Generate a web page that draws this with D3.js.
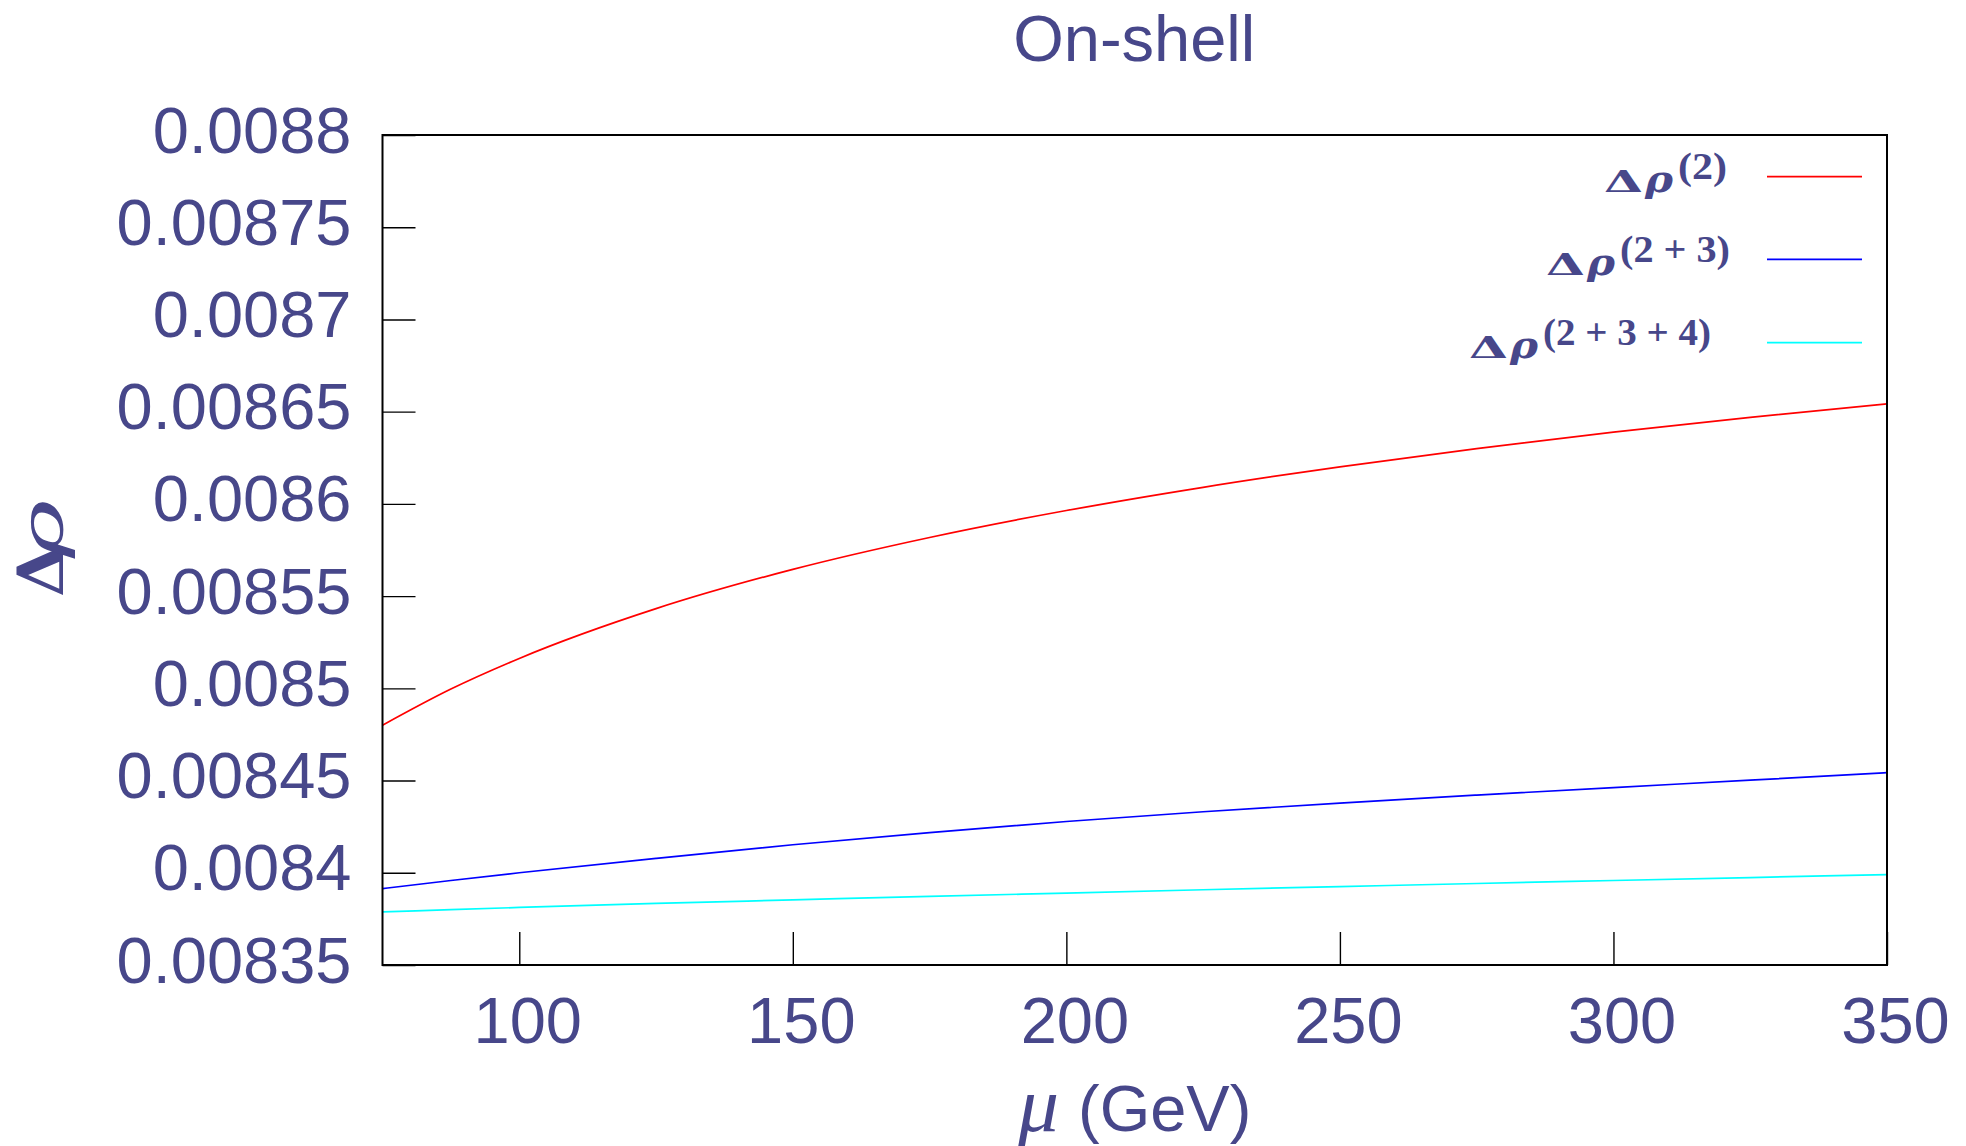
<!DOCTYPE html>
<html>
<head>
<meta charset="utf-8">
<script src="https://cdn.jsdelivr.net/npm/d3@7"></script>
<style>
  html, body { margin: 0; padding: 0; background: #ffffff; }
  svg { display: block; }
</style>
</head>
<body>
<svg id="chart" width="1966" height="1146"></svg>
<script>
// ---------------- data ----------------
const title = "On-shell";
const mu = [75, 87.5, 100, 125, 150, 175, 200, 225, 250, 275, 300, 325, 350];
const rho2 = [0.0084800, 0.0084996, 0.0085162, 0.0085432, 0.0085645, 0.0085818, 0.0085964,
              0.0086090, 0.0086201, 0.0086300, 0.0086389, 0.0086469, 0.0086542];
const rho23 = [0.0083914, 0.0083958, 0.0084000, 0.0084078, 0.0084152, 0.0084218, 0.0084278,
               0.0084331, 0.0084378, 0.0084421, 0.0084462, 0.0084502, 0.0084543];
const rho234 = [0.0083788, 0.0083800, 0.0083812, 0.0083834, 0.0083853, 0.0083872, 0.0083890,
                0.0083908, 0.0083925, 0.0083942, 0.0083958, 0.0083974, 0.0083990];
const seriesNames = ["(2)", "(2\u2005+\u20053)", "(2\u2005+\u20053\u2005+\u20054)"];
const seriesColors = ["#ff0000", "#0000ff", "#00ffff"];
const xTicks = [100, 150, 200, 250, 300, 350];
const yTicks = [0.00835, 0.0084, 0.00845, 0.0085, 0.00855, 0.0086, 0.00865, 0.0087, 0.00875, 0.0088];
const yTickLabels = ["0.00835", "0.0084", "0.00845", "0.0085", "0.00855", "0.0086", "0.00865", "0.0087", "0.00875", "0.0088"];
const xDomain = [75, 350];
const yDomain = [0.00835, 0.0088];

// ---------------- layout ----------------
const TXT = "#47478a";
const SANS = "'Liberation Sans', Arial, Helvetica, sans-serif";
const SERIF = "'DejaVu Serif', 'Liberation Serif', serif";
const LSERIF = "'Liberation Serif', 'DejaVu Serif', serif";
const M = { left: 382.5, right: 1887, top: 135, bottom: 965 };

const svg = d3.select("#chart");
svg.append("rect").attr("width", 1966).attr("height", 1146).attr("fill", "#fff");

const x = d3.scaleLinear().domain(xDomain).range([M.left, M.right]);
const y = d3.scaleLinear().domain(yDomain).range([M.bottom, M.top]);

// clip
svg.append("defs").append("clipPath").attr("id", "plotclip")
  .append("rect").attr("x", M.left).attr("y", M.top)
  .attr("width", M.right - M.left).attr("height", M.bottom - M.top);

// axes
const yAxis = d3.axisLeft(y).tickValues(yTicks)
  .tickFormat((d, i) => yTickLabels[i]).tickSize(-33).tickPadding(31);
const gy = svg.append("g").attr("transform", `translate(${M.left},0)`).call(yAxis);
gy.select(".domain").remove();
gy.selectAll(".tick line").attr("stroke", "#000").attr("stroke-width", 1.4);
gy.selectAll(".tick text").attr("fill", TXT).attr("font-family", SANS)
  .attr("font-size", 65).attr("dy", 17);

const xAxis = d3.axisBottom(x).tickValues(xTicks).tickFormat(d3.format("d"))
  .tickSize(-33).tickPadding(10);
const gx = svg.append("g").attr("transform", `translate(0,${M.bottom})`).call(xAxis);
gx.select(".domain").remove();
gx.selectAll(".tick line").attr("stroke", "#000").attr("stroke-width", 1.4);
gx.selectAll(".tick text").attr("fill", TXT).attr("font-family", SANS)
  .attr("font-size", 65).attr("y", 78).attr("dy", 0).attr("dx", 8);

// series
const series = [rho2, rho23, rho234];
const line = d3.line().x(d => x(d[0])).y(d => y(d[1])).curve(d3.curveMonotoneX);
const gl = svg.append("g").attr("clip-path", "url(#plotclip)");
series.forEach((vals, i) => {
  gl.append("path")
    .datum(mu.map((m, j) => [m, vals[j]]))
    .attr("fill", "none")
    .attr("stroke", seriesColors[i])
    .attr("stroke-width", 1.7)
    .attr("d", line);
});

// frame
svg.append("rect").attr("x", M.left).attr("y", M.top)
  .attr("width", M.right - M.left).attr("height", M.bottom - M.top)
  .attr("fill", "none").attr("stroke", "#000").attr("stroke-width", 2);

// title
svg.append("text").attr("x", (M.left + M.right) / 2 - 0.5).attr("y", 61)
  .attr("text-anchor", "middle").attr("font-family", SANS).attr("font-size", 65)
  .attr("fill", TXT).text(title);

// x label: mu (GeV)
svg.append("text").attr("x", 1018).attr("y", 1131)
  .attr("font-family", LSERIF).attr("font-style", "italic").attr("font-size", 78)
  .attr("textLength", 41).attr("lengthAdjust", "spacingAndGlyphs")
  .attr("fill", TXT).text("\u03bc");
svg.append("text").attr("x", 1078).attr("y", 1131)
  .attr("font-family", SANS).attr("font-size", 65)
  .attr("fill", TXT).text("(GeV)");

// y label: Delta rho (rotated)
const gyl = svg.append("g").attr("transform", "translate(63,548) rotate(-90)");
gyl.append("text").attr("x", -49).attr("y", 0)
  .attr("font-family", SERIF).attr("font-weight", "bold").attr("font-size", 63)
  .attr("textLength", 53).attr("lengthAdjust", "spacingAndGlyphs")
  .attr("fill", TXT).text("\u0394");
gyl.append("text").attr("x", -10).attr("y", 0)
  .attr("font-family", SERIF).attr("font-style", "italic").attr("font-size", 59)
  .attr("textLength", 58).attr("lengthAdjust", "spacingAndGlyphs")
  .attr("fill", TXT).text("\u03c1");

// legend
const legLineY = [176.7, 259.4, 342.6];
const legDeltaStart = [1604, 1546, 1469];
const legSupW = [49, 110, 168];
const gleg = svg.append("g");
seriesNames.forEach((name, i) => {
  const ly = legLineY[i];
  const base = ly + 15.3;
  const x0 = legDeltaStart[i];
  gleg.append("line").attr("x1", 1767).attr("x2", 1862).attr("y1", ly).attr("y2", ly)
    .attr("stroke", seriesColors[i]).attr("stroke-width", 1.7);
  gleg.append("text").attr("x", x0).attr("y", base)
    .attr("font-family", SERIF).attr("font-weight", "bold").attr("font-size", 29)
    .attr("textLength", 39).attr("lengthAdjust", "spacingAndGlyphs")
    .attr("fill", TXT).text("\u0394");
  gleg.append("text").attr("x", x0 + 41).attr("y", base)
    .attr("font-family", SERIF).attr("font-weight", "bold").attr("font-style", "italic")
    .attr("font-size", 35)
    .attr("textLength", 28).attr("lengthAdjust", "spacingAndGlyphs")
    .attr("fill", TXT).text("\u03c1");
  gleg.append("text").attr("x", x0 + 74).attr("y", base - 13)
    .attr("font-family", LSERIF).attr("font-weight", "bold").attr("font-size", 37)
    .attr("textLength", legSupW[i]).attr("lengthAdjust", "spacingAndGlyphs")
    .attr("fill", TXT).text(name);
});
</script>
</body>
</html>
